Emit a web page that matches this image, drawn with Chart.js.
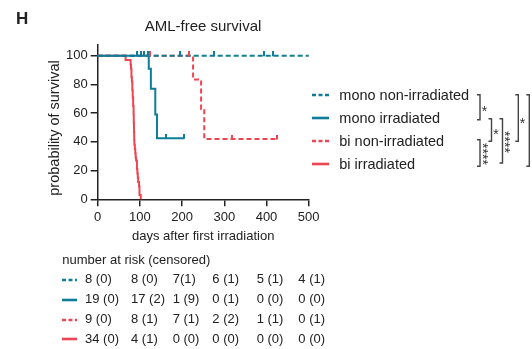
<!DOCTYPE html>
<html>
<head>
<meta charset="utf-8">
<script src="https://cdn.jsdelivr.net/npm/chart.js@4/dist/chart.umd.min.js"></script>
<style>
  html, body { margin: 0; padding: 0; background: #fff; }
  #wrap { position: relative; width: 532px; height: 349px; overflow: hidden;
          font-family: "Liberation Sans", Arial, sans-serif; color: #222; }
  #chart { position: absolute; left: 0; top: 0; }
  .t { position: absolute; white-space: nowrap; }
  .row { position: absolute; height: 20px; line-height: 20px; white-space: nowrap; }
  svg.ov { position: absolute; left: 0; top: 0; }
</style>
</head>
<body>
<div id="wrap">
  <canvas id="chart" width="532" height="260"></canvas>
  <div class="t" style="left:16px; top:8px; font-size:17px; font-weight:bold; line-height:22px;">H</div>
  <div class="t" style="left:103px; top:16px; width:200px; text-align:center; font-size:15px; line-height:20px;">AML-free survival</div>
  <div class="t" style="left:-26px; top:118.3px; width:160px; height:20px; line-height:20px; text-align:center; font-size:14.5px; transform:rotate(-90deg); transform-origin:80px 10px;">probability of survival</div>
  <svg class="ov" id="ov" width="532" height="349"></svg>
  <div id="legend"></div>
  <div id="risk"></div>
</div>
<script>
// ---------- data ----------
const seriesNames = ["mono non-irradiated", "mono irradiated", "bi non-irradiated", "bi irradiated"];

const monoNonIrrDays = [0, 500];
const monoNonIrrSurv = [100, 100];
const monoNonIrrCensorDays = [196, 275, 393, 416];
const monoNonIrrCensorSurv = [100, 100, 100, 100];

const monoIrrDays = [0, 121, 126, 136.5, 140.5, 205];
const monoIrrSurv = [100, 91, 77, 59, 42.5, 42.5];
const monoIrrCensorDays = [92, 102, 110, 120, 163, 205];
const monoIrrCensorSurv = [100, 100, 100, 100, 42.5, 42.5];

const biNonIrrDays = [0, 226, 245, 252.5, 424];
const biNonIrrSurv = [100, 83.5, 63, 42, 42];
const biNonIrrCensorDays = [125, 217, 318, 424];
const biNonIrrCensorSurv = [100, 100, 42, 42];

const biIrrDays = [0, 66, 78, 79, 80, 81, 82, 83, 84, 85, 85.5, 86, 86.5, 87, 88, 89, 90, 91, 93, 94, 95, 96, 98, 99, 102];
const biIrrSurv = [100, 97, 94, 91, 85, 82, 76, 71, 65, 59, 53, 47, 41, 38, 35, 32, 29, 27, 21, 18, 15, 12, 9, 3, 0];

const xTickValues = [0, 100, 200, 300, 400, 500];
const yTickValues = [0, 20, 40, 60, 80, 100];

const riskHeader = "number at risk (censored)";
const riskMonoNonIrr = ["8 (0)", "8 (0)", "7(1)", "6 (1)", "5 (1)", "4 (1)"];
const riskMonoIrr    = ["19 (0)", "17 (2)", "1 (9)", "0 (1)", "0 (0)", "0 (0)"];
const riskBiNonIrr   = ["9 (0)", "8 (1)", "7 (1)", "2 (2)", "1 (1)", "0 (1)"];
const riskBiIrr      = ["34 (0)", "4 (1)", "0 (0)", "0 (0)", "0 (0)", "0 (0)"];

const sigLabels = ["*", "*", "****", "****", "*", ""];

// ---------- styles ----------
const TEAL = "#0f7d97";
const RED = "#ef4552";
const FONT = '"Liberation Sans", Arial, sans-serif';
const styles = [
  { color: TEAL, dash: true },
  { color: TEAL, dash: false },
  { color: RED, dash: true },
  { color: RED, dash: false }
];

function pts(xs, ys) { return xs.map((x, i) => ({ x: x, y: ys[i] })); }

function tickImg(color) {
  const c = document.createElement("canvas");
  c.width = 2; c.height = 9;
  const g = c.getContext("2d");
  g.fillStyle = color;
  g.fillRect(0, 0, 2, 5);
  return c;
}

function censorSet(xs, ys, color) {
  return { type: "scatter", data: pts(xs, ys), pointStyle: tickImg(color),
           pointRadius: 4, showLine: false, clip: false };
}
function curveSet(xs, ys, st) {
  return { type: "line", data: pts(xs, ys), borderColor: st.color, borderWidth: 2,
           borderDash: st.dash ? [5, 3] : [], stepped: true, pointRadius: 0,
           fill: false, clip: false };
}

new Chart(document.getElementById("chart"), {
  type: "line",
  data: {
    datasets: [
      censorSet(monoIrrCensorDays, monoIrrCensorSurv, TEAL),
      censorSet(monoNonIrrCensorDays, monoNonIrrCensorSurv, TEAL),
      censorSet(biNonIrrCensorDays, biNonIrrCensorSurv, RED),
      curveSet(monoIrrDays, monoIrrSurv, styles[1]),
      curveSet(monoNonIrrDays, monoNonIrrSurv, styles[0]),
      curveSet(biNonIrrDays, biNonIrrSurv, styles[2]),
      curveSet(biIrrDays, biIrrSurv, styles[3])
    ]
  },
  options: {
    responsive: false, animation: false, devicePixelRatio: 1,
    layout: { padding: { left: 0, right: 223.3, top: 44.3, bottom: 15.5 } },
    plugins: { legend: { display: false }, tooltip: { enabled: false } },
    scales: {
      x: {
        type: "linear", min: 0, max: 500,
        afterBuildTicks: s => { s.ticks = xTickValues.map(v => ({ value: v })); },
        afterFit: s => { s.height = 45.2; },
        grid: { display: true, drawOnChartArea: false, drawTicks: true, tickLength: 7, color: "#222", lineWidth: 1.5 },
        border: { display: true, color: "#222", width: 1.5 },
        ticks: { font: { family: FONT, size: 13 }, color: "#222", padding: 3, maxRotation: 0 },
        title: { display: true, text: "days after first irradiation", color: "#222",
                 font: { family: FONT, size: 13 }, padding: { top: 0, bottom: 0 } }
      },
      y: {
        type: "linear", min: 0, max: 108,
        afterBuildTicks: s => { s.ticks = yTickValues.map(v => ({ value: v })); },
        afterFit: s => { s.width = 97.7; },
        grid: { display: true, drawOnChartArea: false, drawTicks: true, tickLength: 7, color: "#222", lineWidth: 1.5 },
        border: { display: true, color: "#222", width: 1.5 },
        ticks: { font: { family: FONT, size: 13 }, color: "#222", padding: 3 }
      }
    }
  }
});

// ---------- legend, risk table, brackets ----------
function sampleSvg(st, w, sw) {
  const dash = st.dash ? ' stroke-dasharray="4,2.5"' : '';
  return '<svg width="' + w + '" height="20" style="position:absolute;left:0;top:0">' +
         '<line x1="0" y1="10" x2="' + w + '" y2="10" stroke="' + st.color + '" stroke-width="' + sw + '"' + dash + '/></svg>';
}

const legendRowsY = [94.5, 117.7, 141, 164.3];
let lh = "";
seriesNames.forEach((name, i) => {
  const y = legendRowsY[i] - 10;
  lh += '<div class="row" style="left:311.7px;top:' + y + 'px;width:17px;">' + sampleSvg(styles[i], 17, 2.6) + '</div>';
  lh += '<div class="row" style="left:339.3px;top:' + y + 'px;font-size:14.5px;">' + name + '</div>';
});
document.getElementById("legend").innerHTML = lh;

const riskRows = [riskMonoNonIrr, riskMonoIrr, riskBiNonIrr, riskBiIrr];
const riskColsX = [85, 131, 172.7, 212.3, 256.7, 298.3];
const riskRowsY = [279.3, 299.3, 318.9, 338.6];
let rh = '<div class="row" style="left:62.3px;top:' + (259.8 - 10) + 'px;font-size:13px;">' + riskHeader + '</div>';
riskRows.forEach((row, i) => {
  const y = riskRowsY[i] - 10;
  rh += '<div class="row" style="left:61.7px;top:' + (y + 0.7) + 'px;width:15.6px;">' + sampleSvg(styles[i], 15.6, 2.6) + '</div>';
  row.forEach((txt, j) => {
    rh += '<div class="row" style="left:' + riskColsX[j] + 'px;top:' + y + 'px;font-size:13px;">' + txt + '</div>';
  });
});
document.getElementById("risk").innerHTML = rh;

// brackets: [x, yTop, yBottom, starX, starY, vertical]
const brackets = [
  [480, 94.7, 119.7, 484.5, 107.5, false],
  [491.5, 118.7, 141.3, 496, 130.5, false],
  [480, 139.7, 166.3, 486, 154, true],
  [502.5, 118.7, 163, 508.3, 142, true],
  [518.3, 94.7, 141.3, 522.5, 119.5, false],
  [529.3, 94.7, 166.3, 535, 130, false]
];
let sv = "";
brackets.forEach((b, i) => {
  const [x, y1, y2, sx, sy, vert] = b;
  sv += '<polyline points="' + (x - 3) + ',' + y1 + ' ' + x + ',' + y1 + ' ' + x + ',' + y2 + ' ' + (x - 3) + ',' + y2 +
        '" fill="none" stroke="#444" stroke-width="1.4"/>';
  const lab = sigLabels[i];
  if (!lab) return;
  if (vert) {
    sv += '<text transform="translate(' + sx + ',' + sy + ') rotate(90)" x="0" y="8.1" text-anchor="middle" font-size="14" font-family=\'' + FONT + '\' fill="#333">' + lab + '</text>';
  } else {
    sv += '<text x="' + sx + '" y="' + (sy + 8.1) + '" text-anchor="middle" font-size="14" font-family=\'' + FONT + '\' fill="#333">' + lab + '</text>';
  }
});
document.getElementById("ov").innerHTML = sv;
</script>
</body>
</html>
